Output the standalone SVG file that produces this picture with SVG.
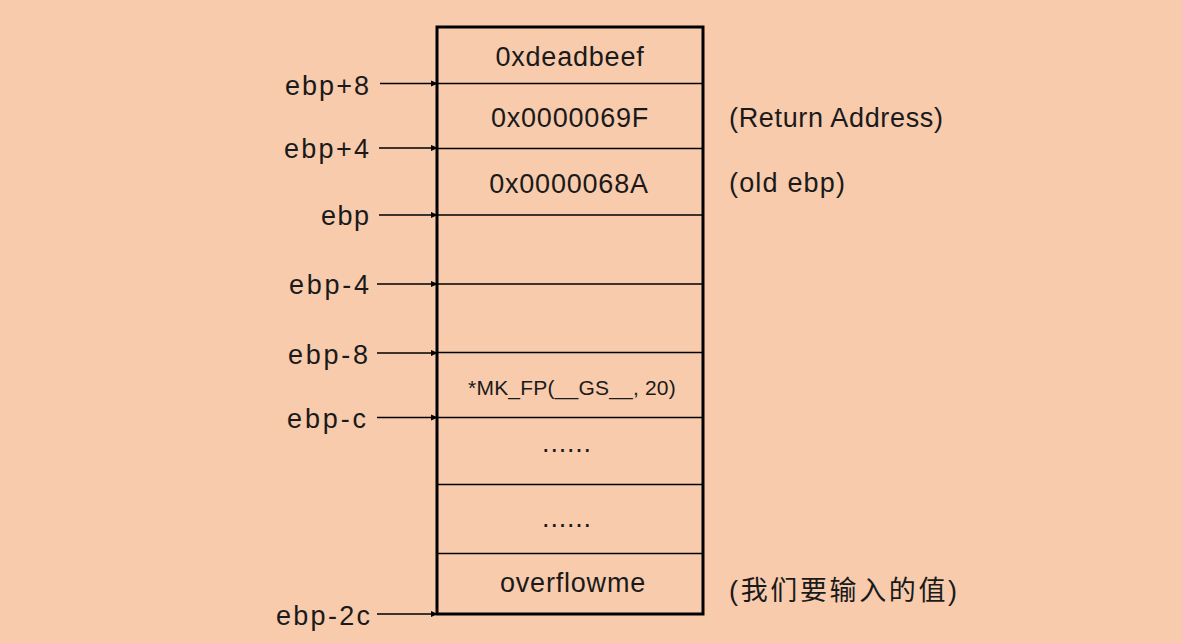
<svg xmlns="http://www.w3.org/2000/svg" width="1182" height="643" viewBox="0 0 1182 643">
<defs>
<marker id="ah" markerWidth="8" markerHeight="8" refX="7" refY="4" orient="auto" markerUnits="userSpaceOnUse">
<path d="M0,1 L7,4 L0,7 Z" fill="#000"/>
</marker>
<style>
.t{font-family:"Liberation Sans","Noto Sans CJK SC",sans-serif;font-size:27px;fill:#1a1a1a}
.c{text-anchor:middle;letter-spacing:0.8px}
.s{font-size:21px;letter-spacing:0.2px}
.cell{stroke:#000;stroke-width:1.3;fill:none}
.arr{stroke:#000;stroke-width:1.3;fill:none;marker-end:url(#ah)}
</style>
</defs>
<rect width="1182" height="643" fill="#F8CBAD"/>
<g id="stack">
<rect x="437" y="27" width="266" height="587" fill="none" stroke="#000" stroke-width="3"/>
<line class="cell" x1="437" y1="83.5" x2="703" y2="83.5"/>
<line class="cell" x1="437" y1="148.5" x2="703" y2="148.5"/>
<line class="cell" x1="437" y1="215" x2="703" y2="215"/>
<line class="cell" x1="437" y1="284" x2="703" y2="284"/>
<line class="cell" x1="437" y1="352.5" x2="703" y2="352.5"/>
<line class="cell" x1="437" y1="417.5" x2="703" y2="417.5"/>
<line class="cell" x1="437" y1="484.5" x2="703" y2="484.5"/>
<line class="cell" x1="437" y1="553.5" x2="703" y2="553.5"/>
</g>
<g id="cells">
<text class="t c" x="570" y="66">0xdeadbeef</text>
<text class="t c" x="570" y="127">0x0000069F</text>
<text class="t c" x="569" y="193">0x0000068A</text>
<text class="t c s" x="572" y="395">*MK_FP(__GS__, 20)</text>
<text class="t c" x="567" y="452">......</text>
<text class="t c" x="567" y="527">......</text>
<text class="t c" x="573" y="592">overflowme</text>
</g>
<g id="notes">
<text class="t" x="729" y="127" textLength="214" lengthAdjust="spacing">(Return Address)</text>
<text class="t" x="729" y="192" textLength="116" lengthAdjust="spacing">(old ebp)</text>
<text class="t" x="729" y="600" textLength="228" lengthAdjust="spacing">(我们要输入的值)</text>
</g>
<g id="labels">
<text class="t" x="285" y="95" textLength="84" lengthAdjust="spacing">ebp+8</text>
<text class="t" x="284" y="158" textLength="85" lengthAdjust="spacing">ebp+4</text>
<text class="t" x="321" y="225" textLength="48" lengthAdjust="spacing">ebp</text>
<text class="t" x="289" y="294" textLength="80" lengthAdjust="spacing">ebp-4</text>
<text class="t" x="288" y="364" textLength="80" lengthAdjust="spacing">ebp-8</text>
<text class="t" x="287" y="428" textLength="79" lengthAdjust="spacing">ebp-c</text>
<text class="t" x="276" y="625" textLength="94" lengthAdjust="spacing">ebp-2c</text>
</g>
<g id="connectors">
<line class="arr" x1="380" y1="83.5" x2="438" y2="83.5"/>
<line class="arr" x1="379" y1="148" x2="438" y2="148"/>
<line class="arr" x1="379" y1="215" x2="438" y2="215"/>
<line class="arr" x1="377" y1="284" x2="438" y2="284"/>
<line class="arr" x1="377" y1="353" x2="438" y2="353"/>
<line class="arr" x1="377" y1="417.5" x2="438" y2="417.5"/>
<line class="arr" x1="377" y1="614" x2="438" y2="614"/>
</g>
</svg>
